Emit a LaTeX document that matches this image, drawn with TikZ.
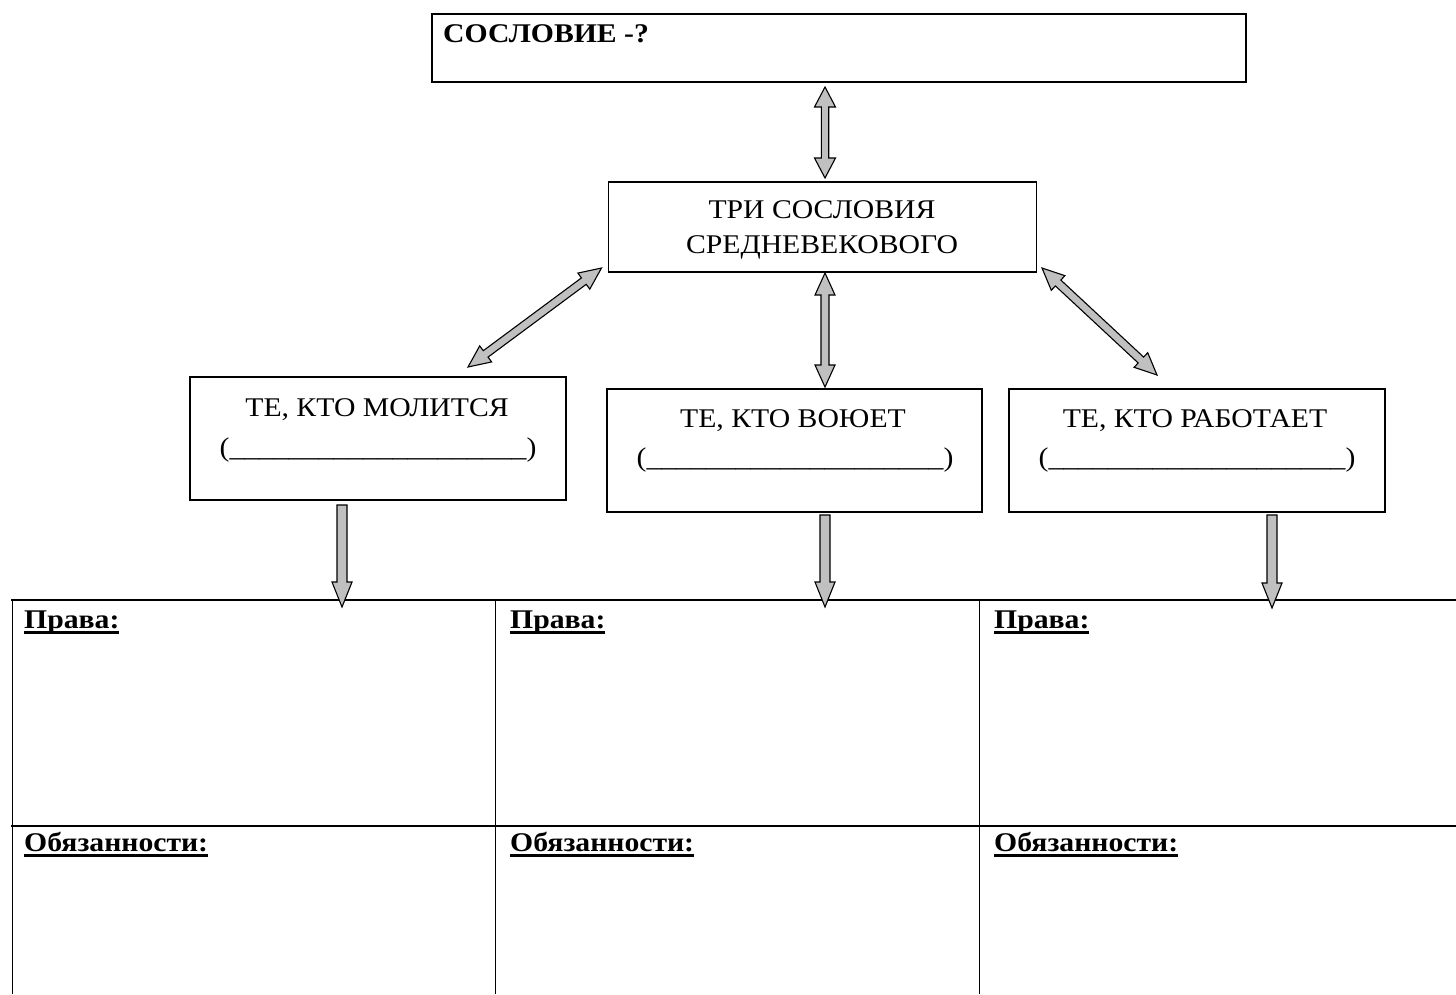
\documentclass[tikz,border=0pt]{standalone}
\usepackage{fontspec}
\setmainfont{Liberation Serif}[FakeStretch=1.1]
\usetikzlibrary{calc}
\definecolor{arrowgray}{HTML}{C0C0C0}
\newcommand\myul[1]{\setbox0\hbox{#1}\rlap{\rule[-6pt]{\wd0}{2.6pt}}\box0}
\newcommand\dblarrow[5]{%
  \path ($(#1)!#5!(#2)$) coordinate (pA) ($(#2)!#5!(#1)$) coordinate (pB);
  \draw[fat] (#1) -- ($(pA)!#4!90:(#2)$) -- ($(pA)!#3!90:(#2)$) -- ($(pB)!#3!-90:(#1)$) -- ($(pB)!#4!-90:(#1)$) -- (#2)
    -- ($(pB)!#4!90:(#1)$) -- ($(pB)!#3!90:(#1)$) -- ($(pA)!#3!-90:(#2)$) -- ($(pA)!#4!-90:(#2)$) -- cycle;}
\newcommand\sglarrow[5]{%
  \path ($(#2)!#5!(#1)$) coordinate (pB);
  \draw[fat] ($(#1)!#3!90:(#2)$) -- ($(pB)!#3!-90:(#1)$) -- ($(pB)!#4!-90:(#1)$) -- (#2)
    -- ($(pB)!#4!90:(#1)$) -- ($(pB)!#3!90:(#1)$) -- ($(#1)!#3!-90:(#2)$) -- cycle;}
\tikzset{
  box/.style={draw, line width=1.5pt, inner sep=0pt, rectangle},
  txt/.style={anchor=base, inner sep=0pt, font=\fontsize{27}{31}\selectfont},
  btxt/.style={anchor=base west, inner sep=0pt, font=\fontsize{27}{31}\selectfont\bfseries},
  fat/.style={fill=arrowgray, draw=black, line width=1.1pt, line join=miter},
  tline/.style={line width=2.5pt},
  vline/.style={line width=1pt},
}
\begin{document}
\begin{tikzpicture}[x=1pt,y=-1pt]
\useasboundingbox (0,0) rectangle (1456,994);
% boxes
\node[box, minimum width=814pt, minimum height=68pt] (top) at (839,48) {};
\node[box, minimum width=428pt, minimum height=90pt] (mid) at (822.5,227) {};
\node[box, minimum width=376pt, minimum height=123pt] (left) at (378,438.5) {};
\node[box, minimum width=375pt, minimum height=123pt] (center) at (794.5,450.5) {};
\node[box, minimum width=376pt, minimum height=123pt] (right) at (1197,450.5) {};
% texts
\node[btxt] (ttop) at (443,42) {СОСЛОВИЕ -?};
\node[txt] (tm1) at (822,218) {ТРИ СОСЛОВИЯ};
\node[txt] (tm2) at (822,253) {СРЕДНЕВЕКОВОГО};
\node[txt] (tl1) at (377,416) {ТЕ, КТО МОЛИТСЯ};
\node[txt] (tl2) at (378,456) {(\_\_\_\_\_\_\_\_\_\_\_\_\_\_\_\_\_\_\_\_)};
\node[txt] (tc1) at (793,427) {ТЕ, КТО ВОЮЕТ};
\node[txt] (tc2) at (795,466) {(\_\_\_\_\_\_\_\_\_\_\_\_\_\_\_\_\_\_\_\_)};
\node[txt] (tr1) at (1195,427) {ТЕ, КТО РАБОТАЕТ};
\node[txt] (tr2) at (1197,466) {(\_\_\_\_\_\_\_\_\_\_\_\_\_\_\_\_\_\_\_\_)};
% arrow end points
\coordinate (a0s) at (825,87);   \coordinate (a0e) at (825,178);
\coordinate (a1s) at (601.5,268); \coordinate (a1e) at (468,367);
\coordinate (a2s) at (825,273);  \coordinate (a2e) at (825,387);
\coordinate (a3s) at (1042,268); \coordinate (a3e) at (1157,375);
\coordinate (d1s) at (342,505);  \coordinate (d1e) at (342,607);
\coordinate (d2s) at (825,515);  \coordinate (d2e) at (825,607);
\coordinate (d3s) at (1272,515); \coordinate (d3e) at (1272,608);
% table
\draw[vline] (12,600) -- (12,994);
\draw[vline] (495,600) -- (495,994);
\draw[vline] (979,600) -- (979,994);
\draw[tline] (11,600) -- (1456,600);
\draw[tline] (11,826) -- (1456,826);
\node[btxt] (p1) at (24,628) {\myul{Права:}};
\node[btxt] (p2) at (510,628) {\myul{Права:}};
\node[btxt] (p3) at (994,628) {\myul{Права:}};
\node[btxt] (o1) at (24,851) {\myul{Обязанности:}};
\node[btxt] (o2) at (510,851) {\myul{Обязанности:}};
\node[btxt] (o3) at (994,851) {\myul{Обязанности:}};
% arrows
\dblarrow{a0s}{a0e}{3.7pt}{10.5pt}{20pt}
\dblarrow{a1s}{a1e}{4pt}{10pt}{22pt}
\dblarrow{a2s}{a2e}{4pt}{10pt}{22pt}
\dblarrow{a3s}{a3e}{4pt}{10pt}{22pt}
\sglarrow{d1s}{d1e}{5pt}{10pt}{25pt}
\sglarrow{d2s}{d2e}{5pt}{10pt}{25pt}
\sglarrow{d3s}{d3e}{5pt}{10pt}{25pt}
\end{tikzpicture}
\end{document}
